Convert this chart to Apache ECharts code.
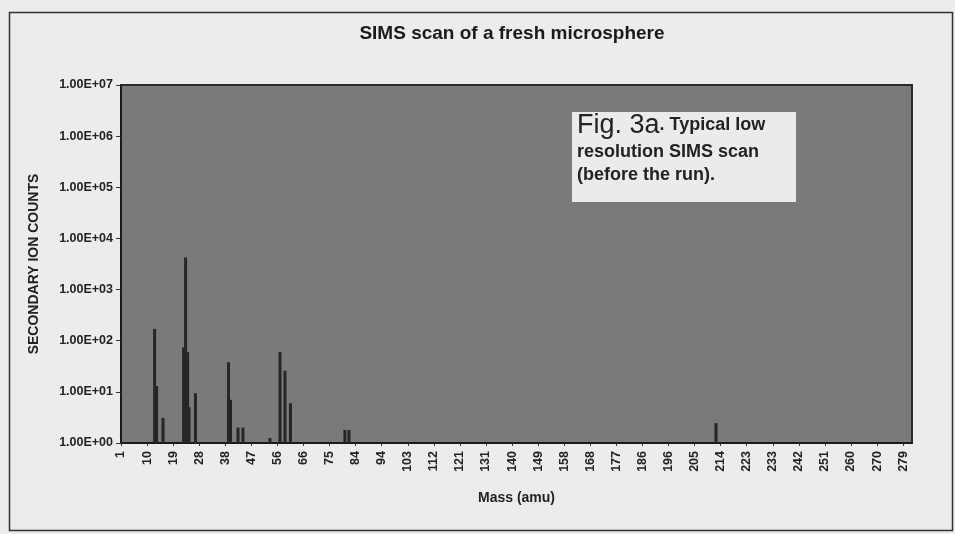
<!DOCTYPE html>
<html>
<head>
<meta charset="utf-8">
<script src="https://cdn.jsdelivr.net/npm/echarts@6/dist/echarts.min.js"></script>
<style>
html,body{margin:0;padding:0;background:#ececec;}
#chart{width:955px;height:534px;}
</style>
</head>
<body>
<div id="chart"></div>
<script>
// Tick labels of the mass axis (amu), as printed
const tickLabels = [1,10,19,28,38,47,56,66,75,84,94,103,112,121,131,140,149,158,168,177,186,196,205,214,223,233,242,251,260,270,279];
// Y tick labels (log scale)
const yTickLabels = ['1.00E+00','1.00E+01','1.00E+02','1.00E+03','1.00E+04','1.00E+05','1.00E+06','1.00E+07'];
// Peaks: mass (amu) and secondary ion counts
const peakMass   = [12.6, 13.3, 15.5, 22.6, 23.3, 24.0, 24.5, 26.7, 39.1, 39.8, 42.4, 44.1, 53.4, 57.0, 58.9, 61.0, 80.3, 81.7, 212.4];
const peakCounts = [170,  13,   3.1,  74,   4250, 60,   5,    9.4,  38,   7,    2,    2,    1.25, 60,   26,   6,    1.8,  1.8,  2.45];

// map a mass onto the printed tick-label positions (piecewise linear)
function massToPos(m){
  for(let i=0;i<tickLabels.length-1;i++){
    if(m<=tickLabels[i+1]) return i + (m - tickLabels[i])/(tickLabels[i+1]-tickLabels[i]);
  }
  const n=tickLabels.length-1;
  return n + (m - tickLabels[n])/(tickLabels[n]-tickLabels[n-1]);
}

const barData = peakMass.map((m,i)=>[massToPos(m), peakCounts[i]]);

const chart = echarts.init(document.getElementById('chart'), null, {renderer:'canvas'});
const font = 'Liberation Sans, Arial, sans-serif';
chart.setOption({
  backgroundColor:'#ececec',
  animation:false,
  title:{
    text:'SIMS scan of a fresh microsphere',
    left:507, top:19, textAlign:'center',
    textStyle:{fontFamily:font,fontWeight:'bold',fontSize:19,color:'#1a1a1a'}
  },
  grid:{left:121,right:43,top:85,bottom:91,show:true,backgroundColor:'#7a7a7a',borderColor:'#2a2a2a',borderWidth:2},
  xAxis:{
    type:'value', min:0, max:30.34, interval:1,
    name:'Mass (amu)', nameLocation:'middle', nameGap:48,
    nameTextStyle:{fontFamily:font,fontWeight:'bold',fontSize:14,color:'#222'},
    axisLine:{lineStyle:{color:'#1a1a1a',width:2}},
    axisTick:{show:true,length:3,lineStyle:{color:'#333'}},
    splitLine:{show:false},
    axisLabel:{
      rotate:90, margin:8, showMaxLabel:false,
      fontFamily:font,fontWeight:'bold',fontSize:12.5,color:'#222',
      formatter:v=>{const i=Math.round(v);return (Math.abs(v-i)<1e-6 && i<tickLabels.length)?String(tickLabels[i]):'';}
    }
  },
  yAxis:{
    type:'log', logBase:10, min:1, max:1e7,
    name:'SECONDARY ION COUNTS', nameLocation:'middle', nameGap:80, nameRotate:90,
    nameTextStyle:{fontFamily:font,fontWeight:'bold',fontSize:14,color:'#222'},
    axisLine:{show:true,lineStyle:{color:'#1a1a1a',width:2}},
    axisTick:{show:true,length:5,lineStyle:{color:'#333'}},
    minorTick:{show:false},
    splitLine:{show:false},
    axisLabel:{
      margin:8,fontFamily:font,fontWeight:'bold',fontSize:12.5,color:'#222',
      formatter:v=>{const e=Math.round(Math.log10(v));return yTickLabels[e]||'';}
    }
  },
  series:[{
    type:'bar',
    data:barData,
    barWidth:3,
    itemStyle:{color:'#262626'},
    silent:true
  }],
  graphic:[
    {type:'rect',left:7,top:10,shape:{width:943,height:518},style:{fill:'none',stroke:'#333',lineWidth:1.5},silent:true},
    {type:'rect',left:572,top:112,shape:{width:224,height:90},style:{fill:'#ebebeb'},silent:true,z:10},
    {type:'text',left:577,top:112,z:11,silent:true,
     style:{
       text:'{a|Fig. 3a}{b|. Typical low}\n{b|resolution SIMS scan}\n{b|(before the run).}',
       rich:{
         a:{fontFamily:font,fontSize:27,fontWeight:'normal',fill:'#222',lineHeight:30},
         b:{fontFamily:font,fontSize:18,fontWeight:'bold',fill:'#222',lineHeight:23}
       }
     }}
  ]
});
</script>
</body>
</html>
